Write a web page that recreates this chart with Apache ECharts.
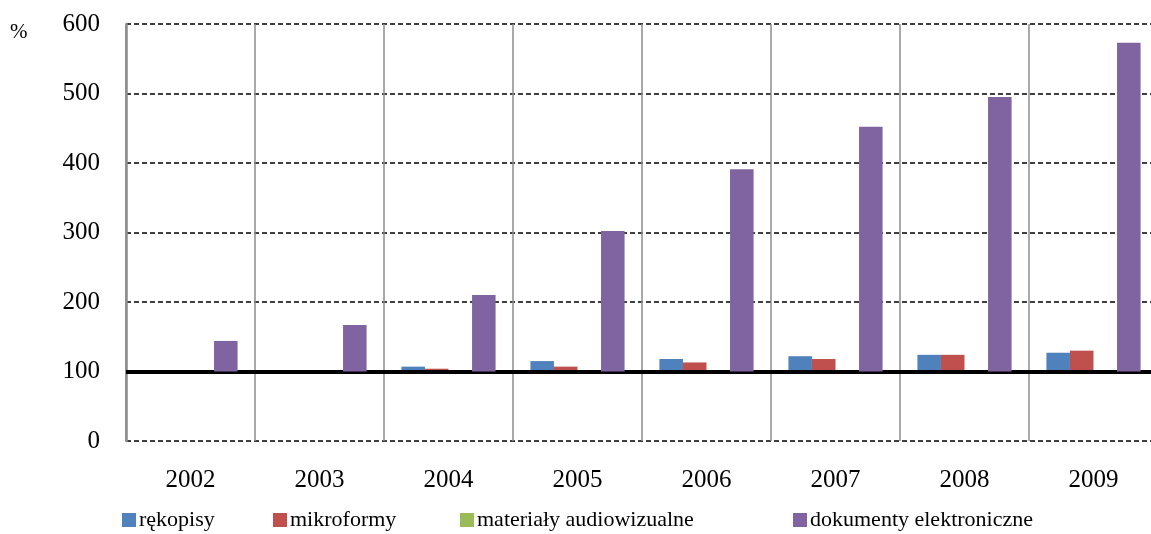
<!DOCTYPE html>
<html>
<head>
<meta charset="utf-8">
<script src="https://cdn.jsdelivr.net/npm/echarts@6/dist/echarts.min.js"></script>
<style>
html,body{margin:0;padding:0;background:#fff;overflow:hidden;}
#chart{width:1160px;height:534px;}
</style>
</head>
<body>
<div id="chart"></div>
<script>
var categories = ['2002','2003','2004','2005','2006','2007','2008','2009'];
var seriesNames = ['rękopisy','mikroformy','materiały audiowizualne','dokumenty elektroniczne'];
var rekopisy = [100,100,107,115,118,122,124,127];
var mikroformy = [100,100,104,107,113,118,124,130];
var audiowizualne = [100,100,100,100,100,100,100,100];
var elektroniczne = [144,167,210,302,391,452,495,573];
var yTicks = [0,100,200,300,400,500,600];
var baseline = 100;

var colors = ['#4f81bd','#c0504d','#9bbb59','#8064a2'];
var values = [rekopisy, mikroformy, audiowizualne, elektroniczne];
var font = 'Liberation Serif';

var series = [];
values.forEach(function(v, i){
  series.push({
    name: 'base' + i, type: 'bar', stack: 's' + i,
    data: v.map(function(){ return baseline; }),
    itemStyle: {color: 'rgba(0,0,0,0)'}, silent: true,
    barGap: '0%', barCategoryGap: '27%'
  });
  var s = {
    name: seriesNames[i], type: 'bar', stack: 's' + i,
    data: v.map(function(x){ return x - baseline; }),
    itemStyle: {color: colors[i]},
    barGap: '0%', barCategoryGap: '27%'
  };
  if (i === 3) {
    s.markLine = {
      silent: true, symbol: 'none', label: {show: false},
      lineStyle: {color: '#000', width: 4, type: 'solid'},
      data: [{yAxis: baseline}]
    };
    s.z = 5;
  }
  series.push(s);
});

var legendLefts = [117, 268, 455, 788];
var legends = seriesNames.map(function(n, i){
  return {
    data: [n], left: legendLefts[i], top: 504,
    itemWidth: 14, itemHeight: 14, icon: 'rect', itemGap: 0,
    textStyle: {fontFamily: font, fontSize: 22, color: '#000', padding: [0,0,0,-2]},
    selectedMode: false
  };
});

var chart = echarts.init(document.getElementById('chart'));
chart.setOption({
  animation: false,
  backgroundColor: '#fff',
  color: colors,
  grid: {left: 126, top: 24, width: 1032, height: 417},
  legend: legends,
  graphic: [{type: 'text', left: 10, top: 22, style: {text: '%', font: '21px "Liberation Serif"', fill: '#000'}}],
  xAxis: {
    type: 'category', data: categories,
    axisLine: {show: false}, axisTick: {show: false},
    axisLabel: {fontFamily: font, fontSize: 25, color: '#000', margin: 27},
    splitLine: {show: true, interval: 0, lineStyle: {color: '#8c8c8c', width: 1.5}}
  },
  yAxis: {
    type: 'value', min: 0, max: 600, interval: 100,
    axisLine: {show: true, lineStyle: {color: '#8c8c8c', width: 2.5}},
    axisTick: {show: false},
    axisLabel: {fontFamily: font, fontSize: 25, color: '#000', margin: 26},
    splitLine: {show: true, lineStyle: {color: '#000', width: 1.5, type: [5, 3]}}
  },
  series: series
});
</script>
</body>
</html>
